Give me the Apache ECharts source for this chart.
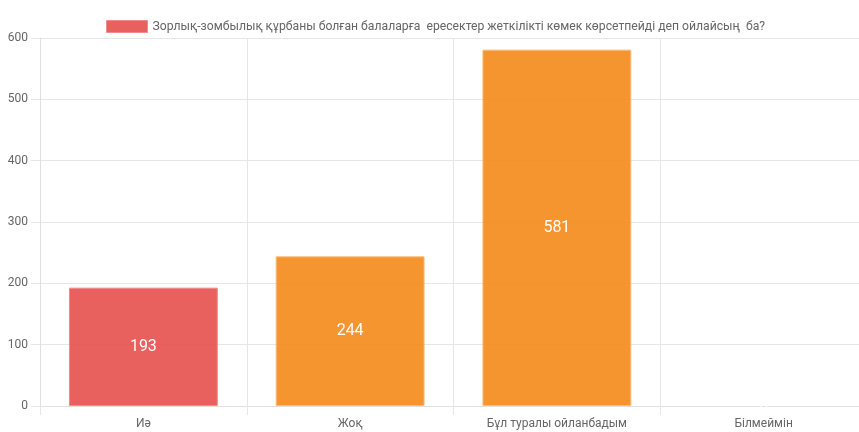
<!DOCTYPE html>
<html><head><meta charset="utf-8">
<script src="https://cdn.jsdelivr.net/npm/echarts@6/dist/echarts.min.js"></script>
<style>html,body{margin:0;padding:0;background:#fff;overflow:hidden}#c{width:867px;height:432px}</style>
</head><body><div id="c"></div>
<script>
const categories = ['Иә', 'Жоқ', 'Бұл туралы ойланбадым', 'Білмеймін'];
const values = [193, 244, 581, 0];
const barColors = ['rgba(229,80,77,0.9)', 'rgba(244,138,24,0.9)', 'rgba(244,138,24,0.9)', 'rgba(244,138,24,0.9)'];
const borderColors = ['rgba(240,140,137,1)', 'rgba(250,185,120,1)', 'rgba(250,185,120,1)', 'rgba(250,185,120,1)'];
const yTicks = [0, 100, 200, 300, 400, 500, 600];
const seriesName = 'Зорлық-зомбылық құрбаны болған балаларға  ересектер жеткілікті көмек көрсетпейді деп ойлайсың  ба?';

const chart = echarts.init(document.getElementById('c'), null, {renderer: 'canvas'});
const font = 'Roboto, "Liberation Sans", Arial, sans-serif';
chart.setOption({
  animation: false,
  textStyle: {fontFamily: font},
  legend: {
    data: [{name: seriesName, itemStyle: {color: 'rgba(229,80,77,0.9)', borderColor: 'rgba(240,140,137,1)', borderWidth: 1}}],
    left: 101, top: 15,
    itemWidth: 41, itemHeight: 12, itemGap: 10,
    icon: 'rect',
    textStyle: {color: '#666', fontSize: 12.2, fontFamily: font, padding: [0,0,0,0]}
  },
  grid: {left: 40, top: 38, right: 0, bottom: 26, containLabel: false},
  xAxis: {
    type: 'category', data: categories, boundaryGap: true,
    axisLine: {show: true, lineStyle: {color: '#e0e0e0'}},
    axisTick: {show: true, length: 9, lineStyle: {color: '#e6e6e6'}},
    splitLine: {show: true, lineStyle: {color: '#e6e6e6'}},
    axisLabel: {color: '#666', fontSize: 12, margin: 12, fontFamily: font}
  },
  yAxis: {
    type: 'value', min: yTicks[0], max: yTicks[yTicks.length-1], interval: 100,
    axisLine: {show: true, lineStyle: {color: '#e0e0e0'}},
    axisTick: {show: true, length: 9, lineStyle: {color: '#e6e6e6'}},
    splitLine: {show: true, lineStyle: {color: '#e6e6e6'}},
    axisLabel: {color: '#666', fontSize: 12, margin: 12, fontFamily: font}
  },
  series: [{
    name: seriesName, type: 'bar', barWidth: '72%',
    data: values.map((v, i) => ({value: v, itemStyle: {color: barColors[i], borderColor: borderColors[i], borderWidth: v === 0 ? 0 : 1}})),
    label: {show: true, position: 'inside', color: '#fff', fontSize: 16, fontFamily: font}
  }]
});
</script></body></html>
